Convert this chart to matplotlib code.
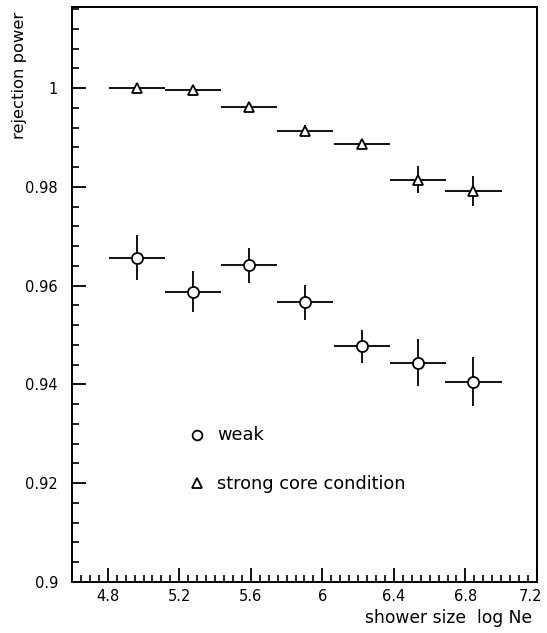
import numpy as np
import matplotlib.pyplot as plt
import matplotlib.transforms as mtransforms
from matplotlib.ticker import MultipleLocator

plt.rcParams['font.family'] = ['DejaVu Sans']

# shower size bins (log Ne)
x_center = [4.965, 5.275, 5.59, 5.905, 6.22, 6.535, 6.845]
x_halfwidth = [0.157, 0.157, 0.157, 0.157, 0.157, 0.157, 0.157]

# strong core condition
strong = [1.0, 0.9997, 0.9961, 0.9913, 0.9886, 0.9815, 0.9792]
strong_err = [0.0003, 0.0004, 0.0005, 0.0012, 0.0010, 0.0028, 0.0031]

# weak condition
weak = [0.9657, 0.9588, 0.9641, 0.9566, 0.9477, 0.9444, 0.9406]
weak_err = [0.0045, 0.0042, 0.0035, 0.0035, 0.0033, 0.0048, 0.0050]

fig = plt.figure(figsize=(5.47, 6.33), dpi=100)
ax = fig.add_axes([0.1316, 0.0806, 0.85, 0.908])

kw = dict(fmt='none', ecolor='black', elinewidth=1.3, capsize=0)
ax.errorbar(x_center, strong, xerr=x_halfwidth, yerr=strong_err, **kw)
ax.errorbar(x_center, weak, xerr=x_halfwidth, yerr=weak_err, **kw)
ax.plot(x_center, strong, ls='none', marker='^', ms=7, mfc='white', mec='black', mew=1.3, zorder=3)
ax.plot(x_center, weak, ls='none', marker='o', ms=8, mfc='white', mec='black', mew=1.3, zorder=3)

# legend drawn in data coordinates like the original
ax.plot([5.30], [0.9298], ls='none', marker='o', ms=7, mfc='white', mec='black', mew=1.3)
ax.text(5.41, 0.9298, 'weak', va='center', ha='left', fontsize=12.8)
ax.plot([5.30], [0.9200], ls='none', marker='^', ms=7, mfc='white', mec='black', mew=1.3)
ax.text(5.41, 0.9198, 'strong core condition', va='center', ha='left', fontsize=12.8)

ax.set_xlim(4.6, 7.2)
ax.set_ylim(0.9, 1.0164)
ax.xaxis.set_minor_locator(MultipleLocator(0.05))
ax.yaxis.set_minor_locator(MultipleLocator(0.004))
ax.set_xticks([4.8, 5.2, 5.6, 6.0, 6.4, 6.8, 7.2])
ax.set_xticklabels(['4.8', '5.2', '5.6', '6', '6.4', '6.8', '7.2'])
ax.set_yticks([0.9, 0.92, 0.94, 0.96, 0.98, 1.0])
ax.set_yticklabels(['0.9', '0.92', '0.94', '0.96', '0.98', '1'])
ax.tick_params(which='major', direction='in', length=10, width=1.3, labelsize=10.5,
               top=False, right=False)
ax.tick_params(which='minor', direction='in', length=5, width=1.2, top=False, right=False)
ax.tick_params(axis='x', pad=5)
ax.tick_params(axis='y', pad=10)
for s in ax.spines.values():
    s.set_linewidth(1.4)

# last x label sits a bit left of its tick, as in the original
last = ax.get_xticklabels()[-1]
last.set_transform(last.get_transform() + mtransforms.ScaledTranslation(-6/100, 0, fig.dpi_scale_trans))

ax.text(-0.112, 0.992, 'rejection power', transform=ax.transAxes, rotation=90,
        ha='center', va='top', fontsize=11.8)
ax.text(0.99, -0.047, 'shower size  log Ne', transform=ax.transAxes,
        ha='right', va='top', fontsize=12.3)

fig.savefig('out.png', dpi=100)
